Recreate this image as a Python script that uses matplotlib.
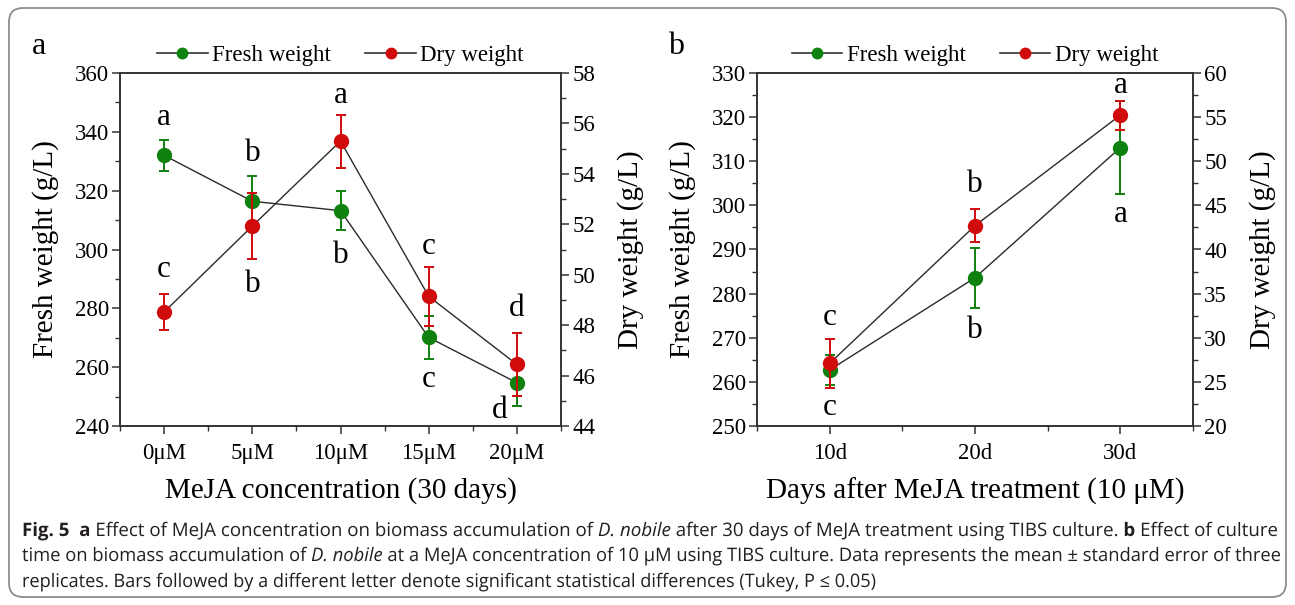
import matplotlib
matplotlib.use('Agg')
import matplotlib.pyplot as plt
from matplotlib.lines import Line2D
from matplotlib.ticker import MultipleLocator
from matplotlib.patches import FancyBboxPatch, PathPatch
from matplotlib.textpath import TextPath
from matplotlib.transforms import Affine2D, IdentityTransform
from matplotlib.font_manager import FontProperties
from matplotlib import font_manager

# ---------------- data ----------------
conc_labels = ['0μM', '5μM', '10μM', '15μM', '20μM']
fresh_a = [332.0, 316.4, 313.2, 270.1, 254.7]
fresh_a_err = [5.3, 8.5, 6.6, 7.2, 7.9]
dry_a = [48.52, 51.93, 55.30, 49.14, 46.44]
dry_a_err = [0.7, 1.3, 1.05, 1.17, 1.24]
fresh_a_letters = ['a', 'b', 'b', 'c', 'd']
dry_a_letters = ['c', 'b', 'a', 'c', 'd']

day_labels = ['10d', '20d', '30d']
fresh_b = [262.7, 283.6, 313.1]
fresh_b_err = [3.3, 6.8, 10.5]
dry_b = [27.1, 42.7, 55.23]
dry_b_err = [2.8, 1.85, 1.65]
fresh_b_letters = ['c', 'b', 'a']
dry_b_letters = ['c', 'b', 'a']

# letter placement (left-axis units) and small x shifts -- layout only
fresh_a_letter_y = [345.0, 332.6, 298.1, 255.9, 245.1]
fresh_a_letter_dx = [0, 0, 0, 0, -0.2]
dry_a_letter_y = [293.1, 288.0, 352.3, 301.0, 280.1]
fresh_b_letter_y = [254.3, 271.6, 297.9]
dry_b_letter_y = [274.7, 304.7, 327.2]

GREEN = '#0f810f'
RED = '#d00b0b'
W, H = 1295, 605

plt.rcParams['font.family'] = ['Liberation Serif', 'DejaVu Serif']

fig = plt.figure(figsize=(W / 100, H / 100), dpi=100)
fig.patch.set_facecolor('white')


def panel(rect, labels, fresh, ferr, dry, derr, ylim_l, lmaj, lmin,
          ylim_r, rmaj, rmin, xlabel, fl, fly, fdx, dl, dly):
    ax = fig.add_axes(rect)
    ax2 = ax.twinx()
    x = list(range(len(labels)))
    ax.set_xlim(-0.5, len(labels) - 0.5)
    ax.set_ylim(*ylim_l)
    ax2.set_ylim(*ylim_r)
    ax.plot(x, fresh, color='#2a2a2a', lw=1.0, zorder=1)
    ax.errorbar(x, fresh, yerr=ferr, fmt='o', color=GREEN, ms=10,
                capsize=3.5, elinewidth=1.4, capthick=1.4, zorder=3)
    ax2.plot(x, dry, color='#2a2a2a', lw=1.0, zorder=1)
    ax2.errorbar(x, dry, yerr=derr, fmt='o', color=RED, ms=10,
                 capsize=3.5, elinewidth=1.4, capthick=1.4, zorder=3)
    for i in x:
        ax.text(i + fdx[i], fly[i], fl[i], ha='center', va='center', fontsize=22.5)
        ax.text(i, dly[i], dl[i], ha='center', va='center', fontsize=22.5)
    ax.set_xticks(x)
    ax.set_xticklabels(labels)
    ax.xaxis.set_minor_locator(MultipleLocator(0.5))
    ax.yaxis.set_major_locator(MultipleLocator(lmaj))
    ax.yaxis.set_minor_locator(MultipleLocator(lmin))
    ax2.yaxis.set_major_locator(MultipleLocator(rmaj))
    ax2.yaxis.set_minor_locator(MultipleLocator(rmin))
    for a in (ax, ax2):
        a.tick_params(which='major', direction='out', length=6, width=1.1,
                      labelsize=16.5, color='#333333', pad=2)
        a.tick_params(which='minor', direction='out', length=3.5, width=1.0,
                      color='#333333')
        for s in a.spines.values():
            s.set_linewidth(1.2)
            s.set_color('#333333')
    ax.tick_params(axis='x', top=False, which='both', pad=6)
    ax.set_ylabel('Fresh weight (g/L)', fontsize=21, labelpad=11)
    ax2.set_ylabel('Dry weight (g/L)', fontsize=21, labelpad=16)
    ax.set_xlabel(xlabel, fontsize=21, labelpad=10)
    handles = [Line2D([], [], color='#333333', lw=1.2, marker='o', ms=7.5,
                      mfc=GREEN, mec=GREEN),
               Line2D([], [], color='#333333', lw=1.2, marker='o', ms=7.5,
                      mfc=RED, mec=RED)]
    ax.legend(handles, ['Fresh weight', 'Dry weight'], loc='lower center',
              bbox_to_anchor=(0.5, 1.012), ncol=2, frameon=False,
              fontsize=16.5, handlelength=2.2, handletextpad=0.2,
              columnspacing=1.5, borderaxespad=0.0, borderpad=0.1)
    return ax


axa = panel([120 / W, 1 - 426 / H, 441 / W, 353 / H], conc_labels,
            fresh_a, fresh_a_err, dry_a, dry_a_err, (240, 360), 20, 10,
            (44, 58), 2, 1, 'MeJA concentration (30 days)',
            fresh_a_letters, fresh_a_letter_y, fresh_a_letter_dx,
            dry_a_letters, dry_a_letter_y)
axb = panel([757 / W, 1 - 426 / H, 436 / W, 353 / H], day_labels,
            fresh_b, fresh_b_err, dry_b, dry_b_err, (250, 330), 10, 5,
            (20, 60), 5, 2.5, 'Days after MeJA treatment (10 μM)',
            fresh_b_letters, fresh_b_letter_y, [0, 0, 0],
            dry_b_letters, dry_b_letter_y)

fig.text(39 / W, 1 - 47 / H, 'a', fontsize=23, ha='center', va='center')
fig.text(676 / W, 1 - 47 / H, 'b', fontsize=23, ha='center', va='center')

# ---------------- caption ----------------
def has_font(name):
    try:
        font_manager.findfont(FontProperties(family=name),
                              fallback_to_default=False)
        return True
    except Exception:
        return False

cap_family = 'DejaVu Sans'
for cand in ['Open Sans', 'Noto Sans', 'Lato']:
    if has_font(cand):
        cap_family = cand
        break


def fp(style):
    fam = [cap_family, 'DejaVu Sans']
    if style == 'b':
        return FontProperties(family=fam, weight='bold')
    if style == 'i':
        return FontProperties(family=fam, style='italic')
    return FontProperties(family=fam)


def adv(txt, style, size):
    e1 = TextPath((0, 0), '|' + txt + '|', size=size, prop=fp(style)).get_extents()
    e2 = TextPath((0, 0), '||', size=size, prop=fp(style)).get_extents()
    return e1.width - e2.width


def line_width(runs, size):
    return sum(adv(t, s, size) for t, s in runs)


def draw_runs(runs, x0, ybase_top, size, sx):
    x = x0
    yb = H - ybase_top
    for txt, style in runs:
        if txt.strip():
            p = TextPath((0, 0), txt, size=size, prop=fp(style))
            tr = Affine2D().scale(sx, 1.0).translate(x, yb)
            patch = PathPatch(tr.transform_path(p), transform=IdentityTransform(),
                              facecolor='#231f20', edgecolor='none', lw=0)
            fig.add_artist(patch)
        x += adv(txt, style, size) * sx


line1 = [('Fig. 5', 'b'), ('  ', 'n'), ('a', 'b'),
         (' Effect of MeJA concentration on biomass accumulation of ', 'n'),
         ('D. nobile', 'i'),
         (' after 30 days of MeJA treatment using TIBS culture. ', 'n'),
         ('b', 'b'), (' Effect of culture', 'n')]
line2 = [('time on biomass accumulation of ', 'n'), ('D. nobile', 'i'),
         (' at a MeJA concentration of 10 μM using TIBS culture. Data represents the mean ± standard error of three', 'n')]
line3 = [('replicates. Bars followed by a different letter denote significant statistical differences (Tukey, P ≤ 0.05)', 'n')]

cap_size = 18.6   # em size in pixels
x0 = 22
sx1 = (1278 - x0) / line_width(line1, cap_size)
sx2 = (1281 - x0) / line_width(line2, cap_size)
sx3 = (876 - x0) / line_width(line3, cap_size)
draw_runs(line1, x0, 536, cap_size, sx1)
draw_runs(line2, x0, 561, cap_size, sx2)
draw_runs(line3, x0, 587, cap_size, sx3)

# ---------------- border ----------------
box = FancyBboxPatch((9, 8), 1277, 589,
                     boxstyle='round,pad=0,rounding_size=14',
                     transform=IdentityTransform(), facecolor='none',
                     edgecolor='#8c8c8c', linewidth=1.3)
fig.add_artist(box)

fig.savefig('out.png', dpi=100)
